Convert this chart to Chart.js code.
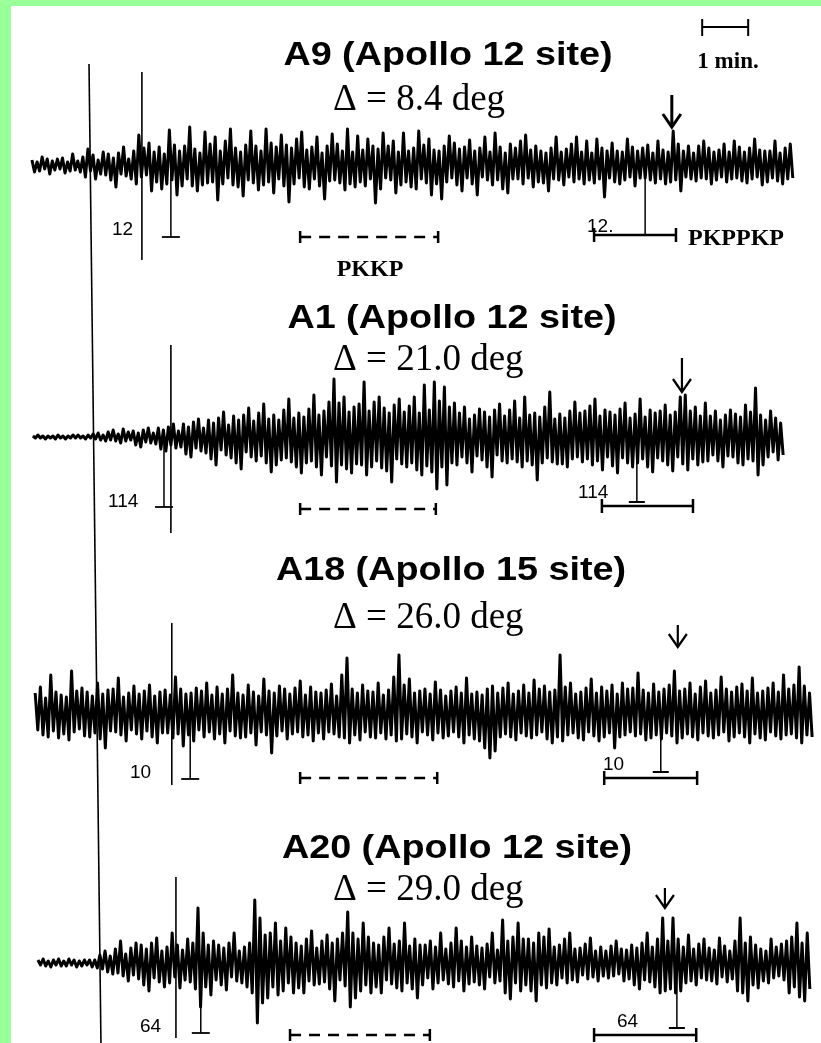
<!DOCTYPE html>
<html>
<head>
<meta charset="utf-8">
<script src="https://cdn.jsdelivr.net/npm/chart.js@4.4.1/dist/chart.umd.min.js"></script>
<style>
  html, body { margin: 0; padding: 0; }
  body { width: 821px; height: 1043px; background: #99ff99; position: relative; overflow: hidden; }
  #wrap { position: absolute; left: 11px; top: 6px; width: 810px; height: 1037px; background: #fff; }
</style>
</head>
<body>
<div id="wrap"><canvas id="sismo" width="810" height="1037"></canvas></div>
<script>
// ==== Datos (tiempo en minutos desde la linea de origen) ====
const stations  = ['A9', 'A1', 'A18', 'A20'];
const sites     = ['Apollo 12 site', 'Apollo 12 site', 'Apollo 15 site', 'Apollo 12 site'];
const distances = [8.4, 21.0, 26.0, 29.0];
const gains     = [12, 114, 10, 64];

const traceStart = [-1.24, -1.22, -1.17, -1.11];
const traceEnd   = [15.30, 15.09, 15.72, 15.67];

const onsetLine   = [0.0, 0.26];          // linea larga: tiempo arriba / abajo
const secondMark  = [1.15, 1.78, 1.80, 1.89];
const leftGainT   = [1.78, 1.63, 2.20, 2.43];
const rightGainT  = [12.09, 11.91, 12.43, 12.78];
const arrowT      = [12.67, 12.89, 12.80, 12.52];
const pkkpStart   = [4.59, 4.59, 4.59, 4.37];
const pkkpEnd     = [7.59, 7.54, 7.57, 7.41];
const pkppkpStart = [10.98, 11.15, 11.20, 10.98];
const pkppkpEnd   = [12.76, 13.13, 13.22, 13.20];
const scaleBarT   = [13.33, 14.33];       // 1 min.

// amplitudes (arriba = positivo), 300 muestras por traza
const traceA9 = [
  5,-7,3,-6,8,-4,6,-9,4,-5, 6,-4,7,-8,3,-6,11,-5,4,-7,
  8,-12,16,-6,10,-14,5,-9,13,-10, 11,-15,7,-22,12,-9,18,-11,6,-14,
  14,-19,30,-12,17,-10,22,-26,13,-17, 18,-24,11,-19,35,-15,20,-30,14,-21,
  19,-14,38,-21,16,-26,12,-20,33,-18, 21,-17,28,-35,14,-19,24,-13,36,-20,
  17,-22,13,-31,20,-15,34,-18,19,-25, 14,-20,36,-17,22,-28,18,-14,30,-21,
  20,-37,17,-19,26,-13,33,-22,15,-24, 18,-14,28,-21,12,-34,19,-16,31,-15,
  21,-18,14,-25,36,-19,13,-22,29,-17, 15,-21,26,-14,19,-38,16,-24,32,-13,
  19,-15,24,-28,13,-20,32,-17,14,-22, 17,-24,34,-14,20,-18,26,-30,15,-19,
  14,-34,19,-17,29,-13,22,-20,16,-26, 18,-13,25,-19,14,-30,17,-12,28,-15,
  13,-20,32,-15,18,-24,12,-28,21,-14, 17,-14,24,-19,30,-13,15,-22,19,-17,
  14,-18,12,-26,17,-14,28,-15,13,-20, 16,-12,21,-17,28,-14,13,-19,24,-15,
  12,-18,26,-14,17,-32,14,-13,22,-17, 14,-19,13,-15,26,-12,18,-21,14,-13,
  17,-13,20,-15,12,-18,24,-14,15,-19, 13,-17,34,-15,21,-26,14,-12,19,-14,
  12,-16,19,-13,24,-14,17,-19,13,-15, 15,-12,21,-17,13,-14,24,-13,18,-16,
  13,-18,17,-14,26,-12,15,-20,14,-17, 14,-13,24,-16,12,-19,17,-14,21,-13];

const traceA1 = [
  1,-1,2,-1,1,-2,1,-1,1,-2, 2,-1,1,-2,1,-1,2,-1,2,-1,
  1,-2,2,-1,3,-2,4,-3,2,-4, 5,-3,7,-4,3,-6,8,-4,5,-3,
  6,-8,4,-10,7,-5,9,-6,4,-7, 9,-12,7,-14,10,-8,13,-11,6,-10,
  13,-17,10,-20,15,-11,18,-14,9,-16, 17,-22,14,-28,19,-13,25,-18,12,-21,
  21,-26,17,-32,22,-15,29,-20,16,-24, 24,-19,33,-26,18,-35,22,-28,17,-23,
  27,-21,38,-25,19,-30,24,-36,20,-26, 28,-24,42,-30,22,-38,26,-20,35,-29,
  58,-45,34,-28,40,-32,25,-36,30,-27, 33,-28,55,-38,26,-30,35,-24,40,-31,
  29,-34,24,-45,32,-22,38,-27,25,-30, 31,-26,40,-33,24,-38,52,-29,27,-35,
  55,-52,36,-30,50,-48,30,-26,34,-28, 24,-20,30,-26,18,-35,22,-19,28,-23,
  25,-30,20,-40,27,-18,33,-24,21,-26, 27,-22,36,-25,19,-30,40,-24,22,-28,
  24,-43,20,-26,30,-21,45,-25,18,-27, 23,-27,19,-30,26,-22,35,-20,24,-25,
  26,-22,31,-28,38,-24,21,-33,27,-20, 25,-29,22,-36,28,-21,34,-26,19,-30,
  23,-26,38,-22,20,-30,27,-35,24,-21, 26,-24,32,-28,22,-34,25,-20,40,-27,
  42,-33,26,-22,30,-28,21,-25,34,-24, 21,-18,26,-24,17,-30,22,-19,27,-20,
  23,-26,20,-28,32,-22,25,-24,49,-38, 22,-28,17,-20,26,-15,19,-23,14,-18];

const traceA18 = [
  20,-17,26,-22,15,-24,38,-18,21,-25, 18,-21,16,-27,42,-19,22,-16,25,-23,
  21,-24,17,-20,30,-26,19,-35,23,-18, 24,-19,35,-22,16,-28,20,-17,27,-21,
  19,-26,22,-18,28,-24,17,-30,21,-20, 23,-20,18,-25,36,-21,24,-33,19,-22,
  20,-28,25,-17,22,-24,30,-19,18,-26, 26,-21,19,-30,24,-18,38,-23,20,-25,
  18,-24,28,-20,21,-32,17,-19,34,-22, 22,-40,20,-23,27,-18,24,-26,19,-21,
  25,-19,32,-24,18,-22,26,-28,21,-20, 20,-26,23,-19,29,-21,17,-24,38,-25,
  55,-30,24,-22,20,-27,28,-19,22,-24, 21,-25,30,-20,18,-26,23,-22,36,-28,
  58,-26,28,-21,34,-24,20,-30,22,-19, 24,-22,19,-27,31,-20,23,-25,17,-23,
  22,-19,26,-24,20,-30,35,-22,19,-26, 21,-28,18,-35,24,-45,27,-38,20,-24,
  25,-21,30,-24,19,-27,22,-20,28,-23, 20,-25,33,-22,24,-19,27,-26,21,-30,
  23,-24,58,-28,26,-22,30,-20,19,-25, 21,-27,25,-19,34,-23,20,-28,26,-24,
  22,-20,28,-35,19,-24,30,-22,24,-19, 25,-23,40,-21,23,-27,20,-25,29,-22,
  21,-26,24,-20,28,-23,42,-30,22,-25, 24,-21,30,-24,19,-27,26,-20,32,-23,
  20,-25,23,-22,36,-19,24,-28,21,-24, 26,-20,29,-24,22,-30,35,-21,20,-25,
  22,-27,25,-19,30,-23,21,-26,38,-22, 24,-21,28,-25,46,-30,27,-22,20,-24];

const traceA20 = [
  3,-2,4,-3,2,-4,3,-2,4,-3, 2,-3,4,-2,3,-4,2,-3,3,-2,
  3,-4,3,-5,8,-6,12,-9,7,-11, 14,-10,22,-13,9,-18,15,-12,20,-16,
  18,-22,14,-28,20,-15,25,-19,12,-24, 16,-20,30,-14,18,-25,13,-17,24,-19,
  20,-26,55,-44,30,-24,18,-32,22,-17, 18,-22,15,-27,20,-14,30,-18,12,-20,
  16,-24,20,-30,63,-60,45,-40,28,-35, 30,-24,40,-32,22,-28,35,-20,26,-30,
  20,-25,17,-30,24,-18,32,-22,15,-21, 22,-19,28,-26,20,-38,24,-17,30,-23,
  51,-44,30,-35,24,-28,40,-22,26,-30, 20,-24,18,-30,26,-17,35,-21,19,-25,
  22,-28,40,-20,17,-26,24,-35,18,-22, 18,-15,22,-26,16,-20,30,-17,14,-21,
  20,-24,35,-18,22,-28,16,-21,26,-19, 17,-22,15,-26,19,-14,30,-20,13,-18,
  43,-30,22,-36,26,-20,40,-28,24,-22, 24,-28,20,-38,30,-22,26,-25,34,-20,
  16,-22,18,-15,24,-20,30,-17,14,-19, 15,-12,19,-16,25,-14,12,-18,16,-13,
  12,-15,17,-13,22,-11,14,-18,13,-16, 18,-22,15,-26,20,-17,30,-19,16,-24,
  24,-30,45,-28,22,-26,45,-30,24,-28, 16,-20,28,-18,14,-22,19,-15,24,-17,
  15,-18,13,-21,25,-14,17,-19,12,-16, 22,-28,45,-30,20,-38,26,-22,18,-25,
  14,-18,12,-20,24,-15,16,-13,19,-17, 22,-30,26,-24,40,-34,20,-38,30,-26];

const traces = [traceA9, traceA1, traceA18, traceA20];

// ==== Maquetacion (pixeles de pagina) ====
const OX = 11, OY = 6;                       // borde verde
const LAY = {
  base:      [165, 437, 713, 963],
  titleX:    [448, 452, 451, 457],
  titleY:    [65, 328, 580, 858],
  deltaY:    [110, 370, 628, 900],
  markTop:   [72, 345, 623, 877],
  markBot:   [260, 533, 785, 1038],
  gainFoot:  [237, 507, 779, 1033],
  rGainFoot: [235, 502, 772, 1028],
  pkkpY:     [237, 509, 778, 1035],
  pkppkpY:   [235, 506, 778, 1035],
  arrowTop:  [95, 358, 625, 888],
  arrowBot:  [127, 392, 647, 908],
  gainLX:    [112, 108, 130, 140],
  gainLY:    [235, 507, 778, 1032],
  gainRX:    [587, 578, 603, 617],
  gainRY:    [232, 498, 770, 1027]
};

const datasets = traces.map((vals, k) => {
  const n = vals.length;
  const dt = (traceEnd[k] - traceStart[k]) / (n - 1);
  return {
    label: stations[k],
    data: vals.map((v, i) => ({ x: traceStart[k] + i * dt, y: LAY.base[k] - v })),
    borderColor: '#000',
    borderWidth: 3,
    borderJoinStyle: 'round',
    pointRadius: 0,
    tension: 0,
    fill: false
  };
});

// ==== Anotaciones ====
const anotaciones = {
  id: 'anotaciones',
  afterDatasetsDraw(chart) {
    const ctx = chart.ctx;
    const X = chart.scales.x, Y = chart.scales.y;
    const px = t => X.getPixelForValue(t);
    const py = v => Y.getPixelForValue(v);
    const line = (x1, y1, x2, y2, w) => {
      ctx.lineWidth = w;
      ctx.beginPath(); ctx.moveTo(x1, y1); ctx.lineTo(x2, y2); ctx.stroke();
    };
    ctx.save();
    ctx.strokeStyle = '#000';
    ctx.fillStyle = '#000';
    ctx.lineCap = 'butt';

    // linea de origen
    line(px(onsetLine[0]), py(64), px(onsetLine[1]), py(1043), 1.6);

    for (let k = 0; k < 4; k++) {
      // segunda marca
      line(px(secondMark[k]), py(LAY.markTop[k]), px(secondMark[k]), py(LAY.markBot[k]), 1.6);

      // ganancia izquierda
      const gx = px(leftGainT[k]);
      line(gx, py(LAY.base[k]), gx, py(LAY.gainFoot[k]), 1.5);
      line(gx - 9, py(LAY.gainFoot[k]), gx + 9, py(LAY.gainFoot[k]), 1.8);

      // ganancia derecha
      const rx = px(rightGainT[k]);
      line(rx, py(LAY.base[k]), rx, py(LAY.rGainFoot[k]), 1.5);
      line(rx - 8, py(LAY.rGainFoot[k]), rx + 8, py(LAY.rGainFoot[k]), 2);

      // ventana PKKP (discontinua)
      const ky = py(LAY.pkkpY[k]);
      const k1 = px(pkkpStart[k]), k2 = px(pkkpEnd[k]);
      ctx.setLineDash([11, 8]);
      line(k1, ky, k2, ky, 2.5);
      ctx.setLineDash([]);
      line(k1, ky - 6, k1, ky + 6, 2.5);
      line(k2, ky - 6, k2, ky + 6, 2.5);

      // ventana PKPPKP
      const qy = py(LAY.pkppkpY[k]);
      const q1 = px(pkppkpStart[k]), q2 = px(pkppkpEnd[k]);
      line(q1, qy, q2, qy, 2.5);
      line(q1, qy - 7, q1, qy + 7, 2.5);
      line(q2, qy - 7, q2, qy + 7, 2.5);

      // flecha
      const ax = px(arrowT[k]);
      const at = py(LAY.arrowTop[k]), ab = py(LAY.arrowBot[k]);
      const aw = k === 0 ? 3 : 2.2;
      line(ax, at, ax, ab - 1, aw);
      ctx.lineWidth = aw;
      ctx.beginPath();
      ctx.moveTo(ax - 9, ab - 13); ctx.lineTo(ax, ab); ctx.lineTo(ax + 9, ab - 13);
      ctx.stroke();

      // titulo
      ctx.save();
      ctx.font = 'bold 34px "Liberation Sans", Arial, sans-serif';
      ctx.textAlign = 'center';
      ctx.textBaseline = 'alphabetic';
      ctx.translate(LAY.titleX[k] - OX, LAY.titleY[k] - OY);
      ctx.scale(1.11, 1);
      ctx.fillText(stations[k] + ' (' + sites[k] + ')', 0, 0);
      ctx.restore();

      // distancia
      ctx.font = '37px "Liberation Serif", "Times New Roman", serif';
      ctx.textAlign = 'left';
      ctx.fillText('\u0394 = ' + distances[k].toFixed(1) + ' deg', 333 - OX, LAY.deltaY[k] - OY);

      // etiquetas de ganancia
      ctx.font = '19px "Liberation Sans", Arial, sans-serif';
      ctx.fillText(String(gains[k]), LAY.gainLX[k] - OX, LAY.gainLY[k] - OY);
      ctx.fillText(String(gains[k]) + (k === 0 ? '.' : ''), LAY.gainRX[k] - OX, LAY.gainRY[k] - OY);
    }

    // nombres de fases (solo panel A9)
    ctx.font = 'bold 24px "Liberation Serif", "Times New Roman", serif';
    ctx.textAlign = 'center';
    ctx.fillText('PKKP', 370 - OX, 276 - OY);
    ctx.textAlign = 'left';
    ctx.fillText('PKPPKP', 688 - OX, 245 - OY);

    // barra de escala 1 min.
    const b1 = px(scaleBarT[0]), b2 = px(scaleBarT[1]), by = py(27);
    line(b1, by, b2, by, 2);
    line(b1, by - 8, b1, by + 9, 2);
    line(b2, by - 8, b2, by + 9, 2);
    ctx.font = 'bold 23px "Liberation Serif", "Times New Roman", serif';
    ctx.textAlign = 'center';
    ctx.fillText('1 min.', 728 - OX, 68 - OY);

    ctx.restore();
  }
};

new Chart(document.getElementById('sismo'), {
  type: 'line',
  data: { datasets },
  options: {
    responsive: false,
    animation: false,
    devicePixelRatio: 1,
    layout: { padding: 0 },
    plugins: { legend: { display: false }, tooltip: { enabled: false }, title: { display: false } },
    scales: {
      x: { type: 'linear', display: false, min: (OX - 89) / 46, max: (821 - 89) / 46 },
      y: { type: 'linear', display: false, reverse: true, min: OY, max: 1043 }
    }
  },
  plugins: [anotaciones]
});
</script>
</body>
</html>
